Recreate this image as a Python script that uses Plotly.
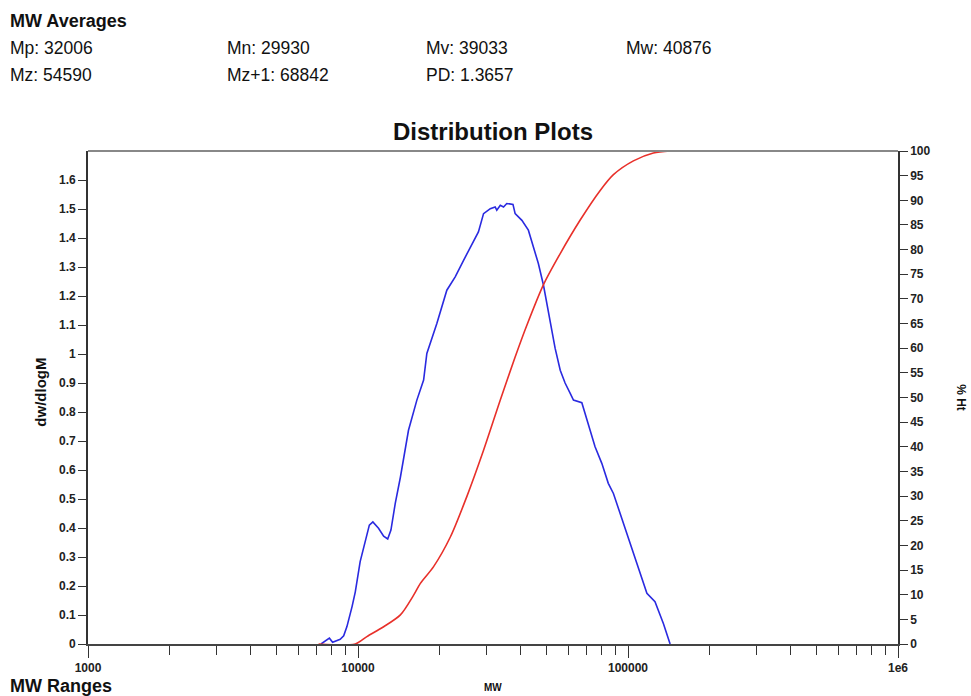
import plotly.graph_objects as go

# ---- data ----
blue_mw = [7295, 7834, 8054, 8590, 8851, 9099, 9506, 9772, 10186, 10641, 11015, 11350,
           11912, 12445, 12882, 13243, 13740, 14355, 15382, 16520, 17498, 17989, 19588,
           21330, 22909, 24604, 26792, 27925, 29174, 30903, 32211, 32659, 33651, 34594,
           35563, 37497, 38194, 40458, 42756, 44668, 46559, 48641, 50699, 51523, 53703,
           56105, 58479, 61094, 62806, 67453, 71285, 75509, 79983, 84528, 88308, 93541,
           99083, 104713, 110917, 117490, 125893, 135207, 143219]
blue_val = [0.0, 0.02, 0.006, 0.016, 0.028, 0.06, 0.129, 0.18, 0.284, 0.358, 0.41, 0.421,
            0.399, 0.372, 0.362, 0.393, 0.485, 0.575, 0.737, 0.841, 0.91, 1.002, 1.105,
            1.22, 1.266, 1.323, 1.392, 1.421, 1.484, 1.501, 1.507, 1.496, 1.513, 1.507,
            1.519, 1.516, 1.484, 1.461, 1.427, 1.369, 1.312, 1.237, 1.14, 1.11, 1.02,
            0.944, 0.90, 0.864, 0.841, 0.832, 0.76, 0.68, 0.623, 0.554, 0.519, 0.45,
            0.381, 0.313, 0.244, 0.175, 0.146, 0.071, 0.0]

red_mw = [7145, 9772, 10789, 12445, 14355, 16069, 17022, 19055, 21979, 25293, 29174,
          33651, 38194, 42170, 48641, 56105, 66527, 78886, 88308, 104713, 124165, 143219]
red_pct = [0.0, 0.0, 1.5, 3.5, 5.9, 9.9, 12.3, 15.7, 21.7, 29.9, 39.3, 49.5, 58.2,
           64.6, 72.9, 79.2, 86.0, 92.0, 95.2, 98.0, 99.6, 100.0]

x_major = [1000, 10000, 100000, 1000000]
x_major_text = ["1000", "10000", "100000", "1e6"]
x_minor = [m * d for d in (1000, 10000, 100000) for m in range(2, 10)]

y_left_ticks = [i / 10 for i in range(0, 17)]
y_left_text = ["0", "0.1", "0.2", "0.3", "0.4", "0.5", "0.6", "0.7", "0.8", "0.9", "1",
               "1.1", "1.2", "1.3", "1.4", "1.5", "1.6"]
y_right_ticks = list(range(0, 101, 5))

header_title = "MW Averages"
header_rows = [["Mp: 32006", "Mn: 29930", "Mv: 39033", "Mw: 40876"],
               ["Mz: 54590", "Mz+1: 68842", "PD: 1.3657"]]

FONT = "Liberation Sans, Arial, sans-serif"
W, H = 971, 696
L, T = 87.5, 150.7
R = W - 898
B = H - 644

fig = go.Figure()
fig.add_trace(go.Scatter(x=blue_mw, y=blue_val, mode="lines",
                         line=dict(color="#2a2ae0", width=1.6), yaxis="y"))
fig.add_trace(go.Scatter(x=red_mw, y=red_pct, mode="lines", line_shape="spline",
                         line=dict(color="#e8302a", width=1.6, smoothing=0.8),
                         yaxis="y2"))

tickfont = dict(family=FONT, size=12, color="#222", weight="bold")

fig.update_layout(
    width=W, height=H,
    margin=dict(l=L, r=R, t=T, b=B, autoexpand=False),
    paper_bgcolor="white", plot_bgcolor="white",
    showlegend=False,
    xaxis=dict(type="log", range=[3, 6], tickvals=x_major, ticktext=x_major_text,
               ticks="outside", ticklen=12, tickwidth=1.3, tickcolor="#333",
               showline=True, linecolor="#444", linewidth=1.6, showgrid=False,
               zeroline=False, tickfont=tickfont,
               minor=dict(tickvals=x_minor, ticks="outside", ticklen=9,
                          tickwidth=1.3, tickcolor="#333", showgrid=False)),
    yaxis=dict(range=[0, 1.7], tickvals=y_left_ticks, ticktext=y_left_text,
               ticks="outside", ticklen=8, tickwidth=1.3, tickcolor="#333",
               showline=True, linecolor="#333", linewidth=1.6, showgrid=False,
               zeroline=False, tickfont=tickfont),
    yaxis2=dict(range=[0, 100], tickvals=y_right_ticks, overlaying="y", side="right",
                ticks="outside", ticklen=8, tickwidth=1.3, tickcolor="#333",
                showline=True, linecolor="#333", linewidth=1.6, showgrid=False,
                zeroline=False, tickfont=tickfont),
)

# top frame line
fig.add_shape(type="line", xref="paper", yref="paper", x0=0, x1=1, y0=1, y1=1,
              line=dict(color="#888", width=2))


def put(xp, yp, text, size, bold=False, xanchor="left", angle=0):
    """place text at page pixel (xp, yp)"""
    fig.add_annotation(text=text, xref="paper", yref="paper",
                       x=(xp - L) / (W - L - R), y=(H - B - yp) / (H - T - B),
                       xanchor=xanchor, yanchor="middle", showarrow=False,
                       textangle=angle, borderpad=0,
                       font=dict(family=FONT, size=size, color="#111",
                                 weight="bold" if bold else "normal"))


put(8, 21, header_title, 18, bold=True)
cols = [8, 226, 425, 625]
for r, row in enumerate(header_rows):
    for c, t in enumerate(row):
        put(cols[c], 48 + r * 27, t, 17.5)

put(492.5, 131, "Distribution Plots", 24, bold=True, xanchor="center")
put(492.5, 688, "MW", 10, bold=True, xanchor="center")
put(8, 686, "MW Ranges", 18, bold=True)
put(40, 392, "dw/dlogM", 15, bold=True, xanchor="center", angle=-90)
put(961, 398, "% Ht", 12, bold=True, xanchor="center", angle=90)

fig.write_html("out.html", config={"displayModeBar": False},
               post_script="document.body.style.margin='0';"
                           "document.body.style.overflow='hidden';")
